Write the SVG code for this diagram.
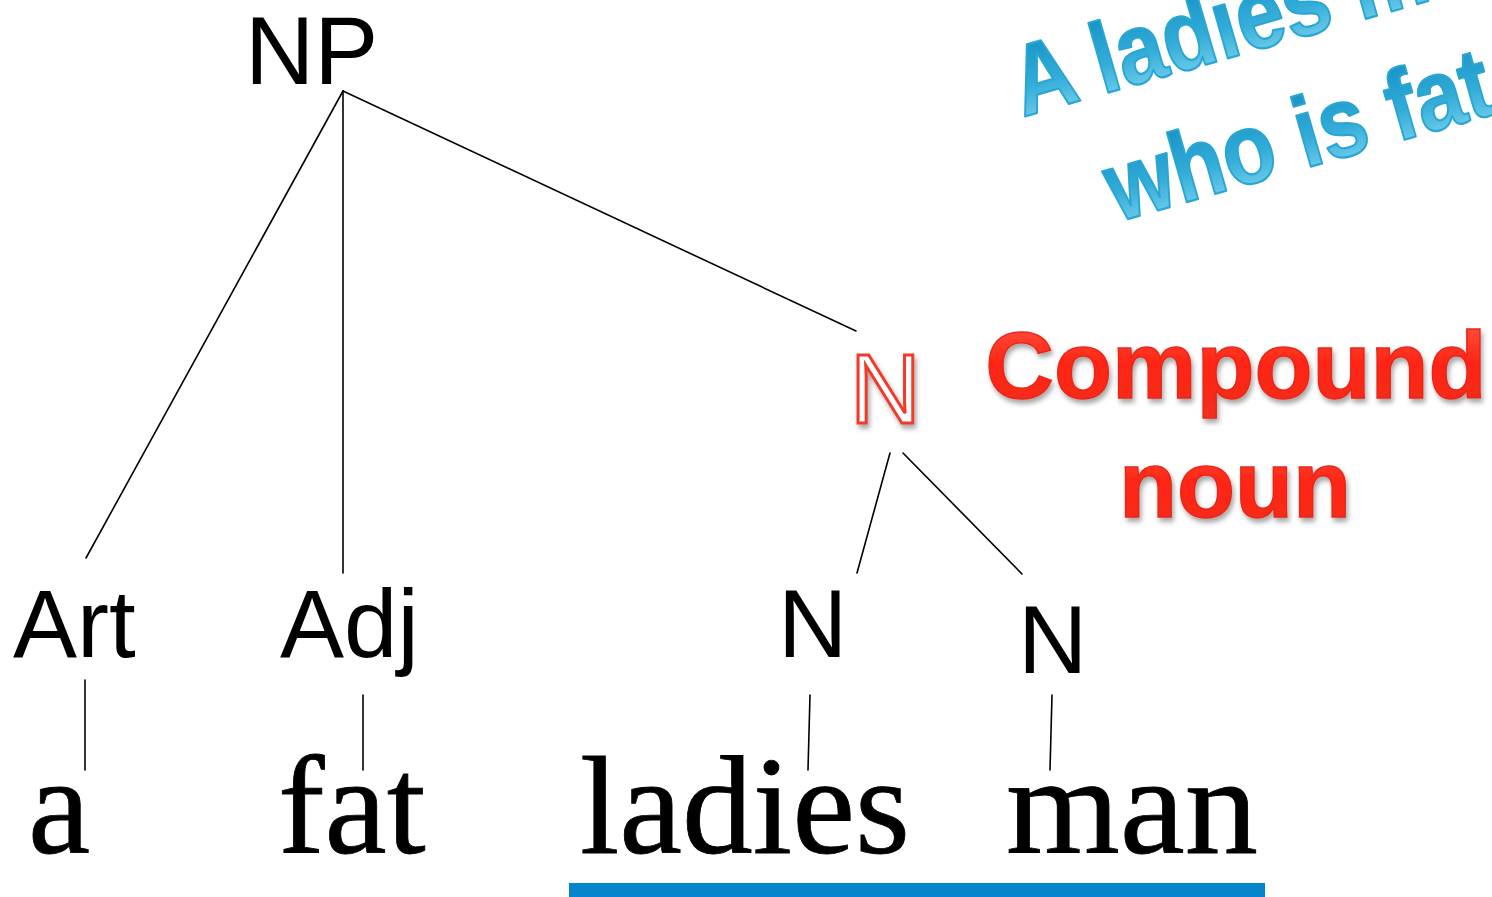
<svg xmlns="http://www.w3.org/2000/svg" width="1492" height="897" viewBox="0 0 1492 897">
  <style>
    .lbl { font-family: "Liberation Sans", Arial, sans-serif; font-size: 96px; fill: #000; }
    .word { font-family: "Liberation Serif", "Times New Roman", serif; font-size: 140px; fill: #000; stroke: #000; stroke-width: 0.8; }
    .edge { stroke: #000; stroke-width: 1.6; fill: none; stroke-linecap: round; }
    .red { font-family: "Liberation Sans", Arial, sans-serif; font-weight: bold; font-size: 95px; fill: url(#redGrad); stroke: #e8281a; stroke-width: 1.5; filter: url(#shadow); }
    .blue { font-family: "Liberation Sans", Arial, sans-serif; font-weight: bold; font-size: 100px; fill: url(#blueGrad); stroke: #2aa6d4; stroke-width: 2.2; stroke-linejoin: round; }
  </style>
  <defs>
    <linearGradient id="redGrad" x1="0" y1="0" x2="0" y2="1">
      <stop offset="0" stop-color="#ff5a48"/>
      <stop offset="0.5" stop-color="#ff2413"/>
      <stop offset="1" stop-color="#f0301f"/>
    </linearGradient>
    <linearGradient id="blueGrad" x1="0" y1="0" x2="0" y2="1">
      <stop offset="0" stop-color="#0f8cbf"/>
      <stop offset="0.55" stop-color="#33acd8"/>
      <stop offset="1" stop-color="#8adcf3"/>
    </linearGradient>
    <filter id="shadow" x="-10%" y="-20%" width="120%" height="150%">
      <feDropShadow dx="2" dy="4" stdDeviation="2.5" flood-color="#000" flood-opacity="0.35"/>
    </filter>
  </defs>
  <rect width="1492" height="897" fill="#fff"/>

  <!-- connectors -->
  <g id="connectors">
    <line class="edge" x1="343" y1="91" x2="86" y2="558"/>
    <line class="edge" x1="343" y1="91" x2="343" y2="573"/>
    <line class="edge" x1="343" y1="91" x2="856" y2="331"/>
    <line class="edge" x1="890" y1="453" x2="857" y2="573"/>
    <line class="edge" x1="903" y1="453" x2="1022" y2="574"/>
    <line class="edge" x1="85" y1="680" x2="85" y2="770"/>
    <line class="edge" x1="363" y1="695" x2="363" y2="770"/>
    <line class="edge" x1="810" y1="695" x2="808" y2="770"/>
    <line class="edge" x1="1052" y1="695" x2="1050" y2="770"/>
  </g>

  <g id="node-NP"><text class="lbl" x="245" y="84" font-size="93">NP</text></g>
  <g id="node-Art"><text class="lbl" x="13" y="657">Art</text></g>
  <g id="node-Adj"><text class="lbl" x="280" y="657">Adj</text></g>
  <g id="node-Ncomp">
    <text x="850" y="423" font-family="Liberation Sans, Arial, sans-serif" font-size="98" fill="#fff" stroke="#ee3a2a" stroke-width="3" filter="url(#shadow)">N</text>
  </g>
  <g id="node-N1"><text class="lbl" x="778" y="657">N</text></g>
  <g id="node-N2"><text class="lbl" x="1018" y="673">N</text></g>

  <g id="word-a"><text class="word" x="28" y="853">a</text></g>
  <g id="word-fat"><text class="word" x="278" y="853">fat</text></g>
  <g id="word-ladies"><text class="word" x="580" y="853" textLength="330" lengthAdjust="spacingAndGlyphs">ladies</text></g>
  <g id="word-man"><text class="word" x="1006" y="853" textLength="252" lengthAdjust="spacingAndGlyphs">man</text></g>

  <g id="underline"><rect x="569" y="883" width="696" height="14" fill="#0684cc"/></g>

  <g id="note-compound">
    <text class="red" x="1236" y="398" text-anchor="middle">Compound</text>
    <text class="red" x="1235" y="517" text-anchor="middle">noun</text>
  </g>

  <g id="note-blue" transform="translate(1023,117) rotate(-16) scale(0.86,1)">
    <text class="blue" x="0" y="0">A ladies man</text>
    <text class="blue" x="71" y="127">who is fat</text>
  </g>
</svg>
